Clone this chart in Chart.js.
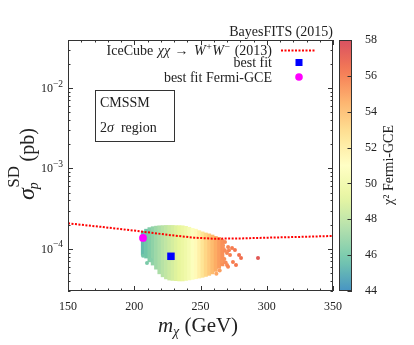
<!DOCTYPE html>
<html>
<head>
<meta charset="utf-8">
<script src="https://cdn.jsdelivr.net/npm/chart.js@4.4.1/dist/chart.umd.min.js"></script>
<style>
  html, body { margin: 0; padding: 0; background: #fff; }
</style>
</head>
<body>
<canvas id="chart" width="414" height="345"></canvas>
<script>
// 2-sigma cloud, read column by column: mass (GeV), lower / upper edge (pb), chi2 colour
const cloudMass = [206.5, 209, 211.5, 214, 216.5, 219, 221.5, 224, 226.5, 229, 231.5, 234, 236.5,
    239, 241.5, 244, 246.5, 249, 251.5, 254, 256.5, 259, 261.5, 264, 266.5];
const cloudLow = [8.4e-5, 7.7e-5, 6.9e-5, 6.3e-5, 5.6e-5, 4.9e-5, 4.5e-5, 4.24e-5, 4.1e-5, 4.06e-5,
    4.03e-5, 4.0e-5, 4.0e-5, 4.06e-5, 4.12e-5, 4.18e-5, 4.26e-5, 4.34e-5, 4.43e-5, 4.55e-5, 4.69e-5,
    4.89e-5, 5.25e-5, 5.73e-5, 6.15e-5];
const cloudHigh = [1.66e-4, 1.76e-4, 1.84e-4, 1.89e-4, 1.92e-4, 1.94e-4, 1.95e-4, 1.96e-4, 1.96e-4,
    1.96e-4, 1.95e-4, 1.95e-4, 1.94e-4, 1.91e-4, 1.86e-4, 1.80e-4, 1.76e-4, 1.69e-4, 1.63e-4, 1.58e-4,
    1.54e-4, 1.49e-4, 1.43e-4, 1.39e-4, 1.31e-4];
const cloudChi2 = [45.5, 45.9, 46.3, 46.7, 47.1, 47.4, 47.8, 48.1, 48.4, 48.7, 49.0, 49.3, 49.6,
    49.9, 50.3, 50.8, 51.3, 51.9, 52.5, 53.1, 53.6, 54.1, 54.6, 55.0, 55.4];

// stray points around the cloud
const strayMass = [206.6, 212.6, 209.6, 267.5, 268, 268.5, 270.8, 273.8, 276.0, 270.0, 272.3, 279.1,
    280.6, 274.5, 276.8, 270.0, 270.8, 293.4, 267, 266, 268.5, 269, 271.5, 264.5, 262];
const straySigma = [8.2e-5, 7.3e-5, 6.7e-5, 1.0e-4, 7.5e-5, 1.22e-4, 1.06e-4, 1.03e-4, 9.7e-5, 8.9e-5,
    8.4e-5, 8.4e-5, 7.7e-5, 6.9e-5, 6.3e-5, 6.3e-5, 6.0e-5, 7.7e-5, 1.1e-4, 7.0e-5, 9.5e-5, 6.8e-5,
    9.6e-5, 5.4e-5, 4.9e-5];
const strayChi2 = [45.8, 46.4, 46.1, 55.4, 55.5, 55.6, 55.8, 56.0, 56.2, 55.7, 55.9, 56.4, 56.5,
    56.0, 56.2, 55.7, 55.8, 57.4, 55.4, 55.3, 55.6, 55.6, 55.8, 55.1, 54.8];

// IceCube chi chi -> W+W- limit (2013)
const iceMass = [150, 175, 200, 225, 245, 260, 280, 300, 325, 350];
const iceSigma = [2.08e-4, 1.88e-4, 1.69e-4, 1.50e-4, 1.38e-4, 1.34e-4, 1.35e-4, 1.38e-4, 1.41e-4, 1.45e-4];

const bestFitMass = [227.7];
const bestFitSigma = [8.1e-5];
const gceMass = [206.6];
const gceSigma = [1.37e-4];

const xTicks = [150, 200, 250, 300, 350];
const yDecades = [-4, -3, -2];
const cbTicks = [44, 46, 48, 50, 52, 54, 56, 58];

const serif = "'Liberation Serif', 'DejaVu Serif', serif";
const cmapStops = ['#3288bd', '#66c2a5', '#abdda4', '#e6f598', '#ffffbf', '#fee08b', '#fdae61', '#f46d43', '#d53e4f'];

function hexRgb(h) {
    return [1, 3, 5].map(i => parseInt(h.slice(i, i + 2), 16));
}

function chiColor(v, alpha = 0.9) {
    const lo = cbTicks[0], hi = cbTicks[cbTicks.length - 1];
    const t = Math.min(Math.max((v - lo) / (hi - lo), 0), 1);
    const pos = t * (cmapStops.length - 1);
    const i = Math.min(Math.floor(pos), cmapStops.length - 2);
    const f = pos - i;
    const a = hexRgb(cmapStops[i]), b = hexRgb(cmapStops[i + 1]);
    const out = a.map((c, k) => Math.round(255 - (255 - (c + (b[k] - c) * f)) * alpha));
    return `rgb(${out.join(',')})`;
}

// draw a run of text pieces (font, text, dy) starting at x on baseline y
function drawRun(ctx, parts, x, y, align) {
    let total = 0;
    parts.forEach(p => { ctx.font = p.f; p.w = ctx.measureText(p.t).width + (p.gap || 0); total += p.w; });
    let cx = align === 'right' ? x - total : align === 'center' ? x - total / 2 : x;
    ctx.textAlign = 'left';
    ctx.textBaseline = 'alphabetic';
    parts.forEach(p => {
        ctx.font = p.f;
        ctx.fillText(p.t, cx, y + (p.dy || 0));
        cx += p.w;
    });
}

const decorations = {
    id: 'decorations',
    afterDraw(chart) {
        const { ctx, chartArea: a, scales } = chart;
        const xs = scales.x, ys = scales.y, cs = scales.cb;
        ctx.save();
        ctx.fillStyle = '#222';
        ctx.strokeStyle = '#333';
        ctx.lineWidth = 1;

        // frame
        ctx.strokeRect(a.left + 0.5, a.top + 0.5, a.right - a.left - 1, a.bottom - a.top - 1);

        // inward ticks, all four sides
        ctx.beginPath();
        for (let v = xs.min; v <= xs.max; v += 10) {
            const px = Math.round(xs.getPixelForValue(v)) + 0.5;
            const len = v % 50 === 0 ? 5 : 2.5;
            ctx.moveTo(px, a.bottom); ctx.lineTo(px, a.bottom - len);
            ctx.moveTo(px, a.top); ctx.lineTo(px, a.top + len);
        }
        for (let d = -5; d <= -1; d++) {
            for (let m = 1; m <= 9; m++) {
                const v = m * Math.pow(10, d);
                if (v <= ys.min || v >= ys.max) continue;
                const py = Math.round(ys.getPixelForValue(v)) + 0.5;
                const len = m === 1 ? 5 : 2.5;
                ctx.moveTo(a.left, py); ctx.lineTo(a.left + len, py);
                ctx.moveTo(a.right, py); ctx.lineTo(a.right - len, py);
            }
        }
        ctx.stroke();

        // y tick labels 10^-n
        yDecades.forEach(d => {
            const py = ys.getPixelForValue(Math.pow(10, d));
            const sup = '\u2212' + Math.abs(d);
            ctx.font = `12px ${serif}`;
            const w1 = ctx.measureText('10').width;
            ctx.font = `9.5px ${serif}`;
            const w2 = ctx.measureText(sup).width;
            drawRun(ctx, [
                { t: '10', f: `12px ${serif}` },
                { t: sup, f: `9.5px ${serif}`, dy: -5.5 }
            ], a.left - 5 - w1 - w2, py + 4, 'left');
        });

        // y axis title
        ctx.save();
        ctx.translate(34, 200);
        ctx.rotate(-Math.PI / 2);
        ctx.textAlign = 'left';
        ctx.textBaseline = 'alphabetic';
        ctx.font = `italic 24px ${serif}`;
        const ws = ctx.measureText('\u03c3').width;
        ctx.fillText('\u03c3', 0, 0);
        ctx.font = `17px ${serif}`;
        const wsd = ctx.measureText('SD').width;
        ctx.fillText('SD', ws + 0.5, -15);
        ctx.font = `italic 14px ${serif}`;
        ctx.fillText('p', ws - 1, 4);
        ctx.font = `20px ${serif}`;
        ctx.fillText('(pb)', ws + wsd + 5, 0);
        ctx.restore();

        // x axis title
        drawRun(ctx, [
            { t: 'm', f: `italic 21px ${serif}` },
            { t: '\u03c7', f: `italic 14px ${serif}`, dy: 4 },
            { t: ' (GeV)', f: `21px ${serif}` }
        ], 198, 331.5, 'center');

        // title
        drawRun(ctx, [{ t: 'BayesFITS (2015)', f: `14px ${serif}` }], a.right, 35.5, 'right');

        // legend
        drawRun(ctx, [
            { t: 'IceCube ', f: `14px ${serif}`, gap: 1 },
            { t: '\u03c7\u03c7', f: `italic 14px ${serif}`, gap: 1 },
            { t: ' \u2192 ', f: `14px ${serif}`, gap: 2 },
            { t: 'W', f: `italic 14px ${serif}`, gap: 0.5 },
            { t: '+', f: `10px ${serif}`, dy: -5.5, gap: 0.5 },
            { t: 'W', f: `italic 14px ${serif}`, gap: 0.5 },
            { t: '\u2212', f: `10px ${serif}`, dy: -5.5, gap: 1 },
            { t: ' (2013)', f: `14px ${serif}` }
        ], 272, 55, 'right');
        drawRun(ctx, [{ t: 'best fit', f: `14px ${serif}` }], 272, 67, 'right');
        drawRun(ctx, [{ t: 'best fit Fermi-GCE', f: `14px ${serif}` }], 272, 81.5, 'right');

        ctx.save();
        ctx.strokeStyle = '#ff0000';
        ctx.lineWidth = 2;
        ctx.setLineDash([2, 1.5]);
        ctx.beginPath();
        ctx.moveTo(281, 50.5); ctx.lineTo(316, 50.5);
        ctx.stroke();
        ctx.restore();
        ctx.fillStyle = '#0000ff';
        ctx.fillRect(295.5, 59, 7, 7);
        ctx.fillStyle = '#ff00ff';
        ctx.beginPath();
        ctx.arc(299, 77, 3.8, 0, Math.PI * 2);
        ctx.fill();

        // CMSSM box
        ctx.fillStyle = '#222';
        ctx.strokeRect(95.5, 90.5, 79, 51);
        drawRun(ctx, [{ t: 'CMSSM', f: `14px ${serif}` }], 100, 107, 'left');
        drawRun(ctx, [
            { t: '2', f: `14px ${serif}` },
            { t: '\u03c3', f: `italic 14px ${serif}` },
            { t: '  region', f: `14px ${serif}` }
        ], 100, 132, 'left');

        // colour bar
        const cbL = a.right + 6, cbW = 13;
        const top = cs.getPixelForValue(cs.max), bot = cs.getPixelForValue(cs.min);
        const grad = ctx.createLinearGradient(0, bot, 0, top);
        for (let k = 0; k <= 28; k++) {
            const v = cs.min + (cs.max - cs.min) * k / 28;
            grad.addColorStop(k / 28, chiColor(v));
        }
        ctx.fillStyle = grad;
        ctx.fillRect(cbL, top, cbW, bot - top);
        ctx.strokeStyle = '#333';
        ctx.strokeRect(cbL + 0.5, top + 0.5, cbW - 1, bot - top - 1);
        ctx.beginPath();
        cbTicks.forEach(v => {
            const py = Math.round(cs.getPixelForValue(v)) + 0.5;
            ctx.moveTo(cbL + cbW - 4.5, py); ctx.lineTo(cbL + cbW, py);
        });
        ctx.stroke();

        ctx.save();
        ctx.translate(389, 165);
        ctx.rotate(-Math.PI / 2);
        ctx.fillStyle = '#222';
        ctx.font = `14px ${serif}`;
        ctx.textAlign = 'center';
        ctx.textBaseline = 'middle';
        ctx.fillText('\u03c7\u00b2 Fermi-GCE', 0, 0);
        ctx.restore();

        ctx.restore();
    }
};

const cloudData = cloudMass.map((m, i) => ({ x: m, y: [cloudLow[i], cloudHigh[i]] }));
const strayData = strayMass.map((m, i) => ({ x: m, y: straySigma[i] }));
const iceData = iceMass.map((m, i) => ({ x: m, y: iceSigma[i] }));

new Chart(document.getElementById('chart'), {
    type: 'bar',
    data: {
        datasets: [
            {
                type: 'scatter',
                label: 'best fit Fermi-GCE',
                data: gceMass.map((m, i) => ({ x: m, y: gceSigma[i] })),
                pointStyle: 'circle',
                pointRadius: 3.9,
                pointBackgroundColor: '#ff00ff',
                pointBorderWidth: 0,
                order: 0
            },
            {
                type: 'scatter',
                label: 'best fit',
                data: bestFitMass.map((m, i) => ({ x: m, y: bestFitSigma[i] })),
                pointStyle: 'rect',
                pointRadius: 5.3,
                pointBackgroundColor: '#0000ff',
                pointBorderWidth: 0,
                order: 1
            },
            {
                type: 'line',
                label: 'IceCube',
                data: iceData,
                borderColor: '#ff0000',
                borderWidth: 2,
                borderDash: [2, 1.5],
                pointRadius: 0,
                fill: false,
                tension: 0,
                order: 2
            },
            {
                type: 'scatter',
                label: 'stray',
                data: strayData,
                pointRadius: 2,
                pointBackgroundColor: strayChi2.map(v => chiColor(v, 0.95)),
                pointBorderWidth: 0,
                order: 3
            },
            {
                type: 'bar',
                label: 'cloud',
                data: cloudData,
                backgroundColor: cloudChi2.map(v => chiColor(v, 0.97)),
                borderWidth: 0,
                barPercentage: 1,
                categoryPercentage: 1,
                grouped: false,
                order: 4
            }
        ]
    },
    options: {
        responsive: false,
        animation: false,
        events: [],
        layout: { padding: { top: 40, left: 0, right: 0, bottom: 0 } },
        plugins: {
            legend: { display: false },
            tooltip: { enabled: false }
        },
        scales: {
            x: {
                type: 'linear',
                min: 150,
                max: 350,
                offset: false,
                grid: { display: false, drawTicks: false, offset: false },
                border: { display: false },
                afterBuildTicks: s => { s.ticks = xTicks.map(v => ({ value: v })); },
                ticks: { padding: 9, color: '#222', maxRotation: 0, font: { family: serif, size: 12 } },
                afterFit: s => { s.height = 54; }
            },
            y: {
                type: 'logarithmic',
                min: 3e-5,
                max: 3.95e-2,
                grid: { display: false, drawTicks: false },
                border: { display: false },
                ticks: { display: false },
                afterFit: s => { s.width = 68; }
            },
            cb: {
                type: 'linear',
                position: 'right',
                min: 44,
                max: 58,
                grid: { display: false, drawTicks: false },
                border: { display: false },
                afterBuildTicks: s => { s.ticks = cbTicks.map(v => ({ value: v })); },
                ticks: { padding: 32, color: '#222', font: { family: serif, size: 12 } },
                afterFit: s => { s.width = 81; }
            }
        }
    },
    plugins: [decorations]
});
</script>
</body>
</html>
